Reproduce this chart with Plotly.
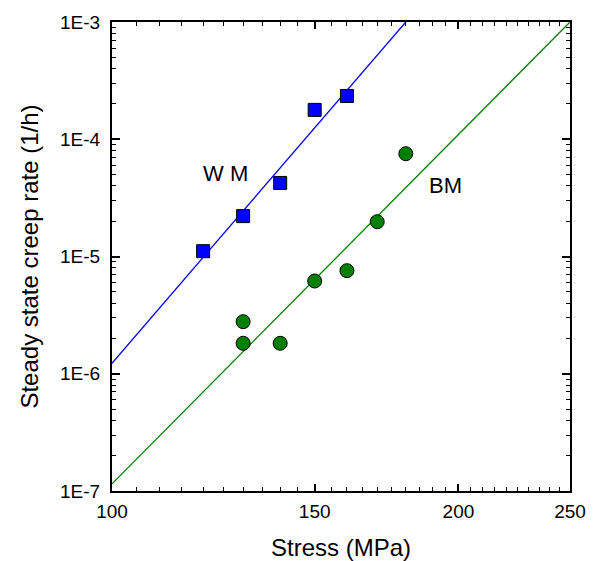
import numpy as np
import plotly.graph_objects as go

# Data
wm_stress = [120, 130, 140, 150, 160]
wm_rate = [1.11e-5, 2.21e-5, 4.24e-5, 1.78e-4, 2.34e-4]

bm_stress = [130, 130, 140, 150, 160, 170, 180]
bm_rate = [2.78e-6, 1.82e-6, 1.82e-6, 6.18e-6, 7.57e-6, 1.98e-5, 7.53e-5]

wm_fit_stress = [100, 180]
wm_fit_rate = [1.23e-6, 1.0e-3]
bm_fit_stress = [100, 250]
bm_fit_rate = [1.15e-7, 1.0e-3]

x_tickvals = [100, 150, 200, 250]
x_ticktext = ["100", "150", "200", "250"]
y_tickvals = [1e-7, 1e-6, 1e-5, 1e-4, 1e-3]
y_ticktext = ["1E-7", "1E-6", "1E-5", "1E-4", "1E-3"]

x_minor = [v for v in range(105, 250, 5) if v not in x_tickvals]
y_minor = [m * 10.0 ** e for e in range(-7, -3) for m in range(2, 10)]

FONT = "Liberation Sans, Arial, sans-serif"
BLUE = "#0000ff"
GREEN = "#007f00"

fig = go.Figure()
fig.add_trace(go.Scatter(x=wm_fit_stress, y=wm_fit_rate, mode="lines",
                         line=dict(color=BLUE, width=1.3), showlegend=False))
fig.add_trace(go.Scatter(x=bm_fit_stress, y=bm_fit_rate, mode="lines",
                         line=dict(color=GREEN, width=1.3), showlegend=False))
fig.add_trace(go.Scatter(x=wm_stress, y=wm_rate, mode="markers",
                         marker=dict(symbol="square", size=13, color=BLUE,
                                     line=dict(color="black", width=1)),
                         showlegend=False))
fig.add_trace(go.Scatter(x=bm_stress, y=bm_rate, mode="markers",
                         marker=dict(symbol="circle", size=14, color=GREEN,
                                     line=dict(color="black", width=1)),
                         showlegend=False))

fig.add_annotation(x=np.log10(125.5), y=np.log10(5.06e-5), text="W M", showarrow=False,
                   font=dict(family=FONT, size=22, color="black"))
fig.add_annotation(x=np.log10(195), y=np.log10(4.07e-5), text="BM", showarrow=False,
                   font=dict(family=FONT, size=22, color="black"))

axis_common = dict(
    showline=True, linewidth=2, linecolor="black", mirror="ticks",
    ticks="inside", tickcolor="black", tickwidth=1.5,
    showgrid=False, zeroline=False,
    tickfont=dict(family=FONT, size=19, color="black"),
)

fig.update_xaxes(type="log", range=[2, np.log10(250)],
                 tickmode="array", tickvals=x_tickvals, ticktext=x_ticktext, ticklen=7,
                 ticklabelstandoff=2,
                 minor=dict(tickmode="array", tickvals=x_minor, ticks="inside",
                            ticklen=4, tickcolor="black", tickwidth=1.2),
                 title=dict(text="Stress (MPa)", font=dict(family=FONT, size=24, color="black"),
                            standoff=19),
                 **axis_common)
fig.update_yaxes(type="log", range=[-7, -3],
                 tickmode="array", tickvals=y_tickvals, ticktext=y_ticktext, ticklen=8,
                 ticklabelstandoff=6,
                 minor=dict(tickmode="array", tickvals=y_minor, ticks="inside",
                            ticklen=4, tickcolor="black", tickwidth=1.2),
                 title=dict(text="Steady state creep rate (1/h)",
                            font=dict(family=FONT, size=24, color="black"), standoff=15),
                 **axis_common)

fig.update_layout(width=595, height=561,
                  margin=dict(l=112, r=25, t=22, b=70, autoexpand=False),
                  plot_bgcolor="white", paper_bgcolor="white")

fig.write_html("out.html")
